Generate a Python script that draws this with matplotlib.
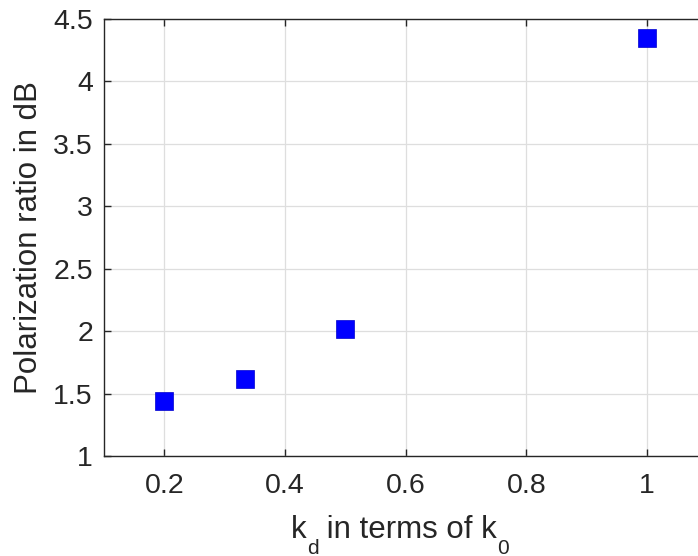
import matplotlib
matplotlib.use("Agg")
import matplotlib.pyplot as plt

# data
kd = [0.2, 1/3, 0.5, 1.0]
ratio_db = [1.44, 1.62, 2.02, 4.35]

xticks = [0.2, 0.4, 0.6, 0.8, 1.0]
xtick_labels = ["0.2", "0.4", "0.6", "0.8", "1"]
yticks = [1, 1.5, 2, 2.5, 3, 3.5, 4, 4.5]
ytick_labels = ["1", "1.5", "2", "2.5", "3", "3.5", "4", "4.5"]

# x label pieces: (text, is_subscript)
xlabel_parts = [("k", False), ("d", True), (" in terms of k", False), ("0", True)]
ylabel_text = "Polarization ratio in dB"

plt.rcParams['font.family'] = ['Liberation Sans', 'DejaVu Sans']
dark = (0.15, 0.15, 0.15)
W, H = 698, 556

fig = plt.figure(figsize=(W / 100, H / 100), dpi=100)
ax = fig.add_axes([104 / W, 1 - 456 / H, 603.5 / W, 437 / H])

ax.plot(kd, ratio_db, linestyle='none', marker='s', markersize=13,
        color=(0, 0, 1), markeredgecolor=(0, 0, 0.8), markeredgewidth=0.5)

ax.set_xlim(0.1, 1.1)
ax.set_ylim(1, 4.5)
ax.set_xticks(xticks)
ax.set_xticklabels(xtick_labels)
ax.set_yticks(yticks)
ax.set_yticklabels(ytick_labels)

ax.grid(True, color=(0.87, 0.87, 0.87), linewidth=0.9)
ax.set_axisbelow(True)
for s in ax.spines.values():
    s.set_color(dark)
    s.set_linewidth(1.0)
ax.tick_params(direction='in', length=5, width=1, colors=dark, labelsize=20.5,
               top=True, right=True)
ax.tick_params(axis='x', pad=12)
ax.tick_params(axis='y', pad=8)

ax.set_ylabel(ylabel_text, fontsize=22.5, color=dark)
ax.yaxis.set_label_coords(-0.099, 0.5)

# x label with low MATLAB-style subscripts, placed piece by piece
renderer = fig.canvas.get_renderer()
x_px = 291
for txt, sub in xlabel_parts:
    base = 554 if sub else 538
    t = fig.text(x_px / W, 1 - base / H, txt, fontsize=15 if sub else 22.5,
                 color=dark, ha='left', va='baseline')
    x_px += t.get_window_extent(renderer).width

fig.savefig("out.png", dpi=100)
